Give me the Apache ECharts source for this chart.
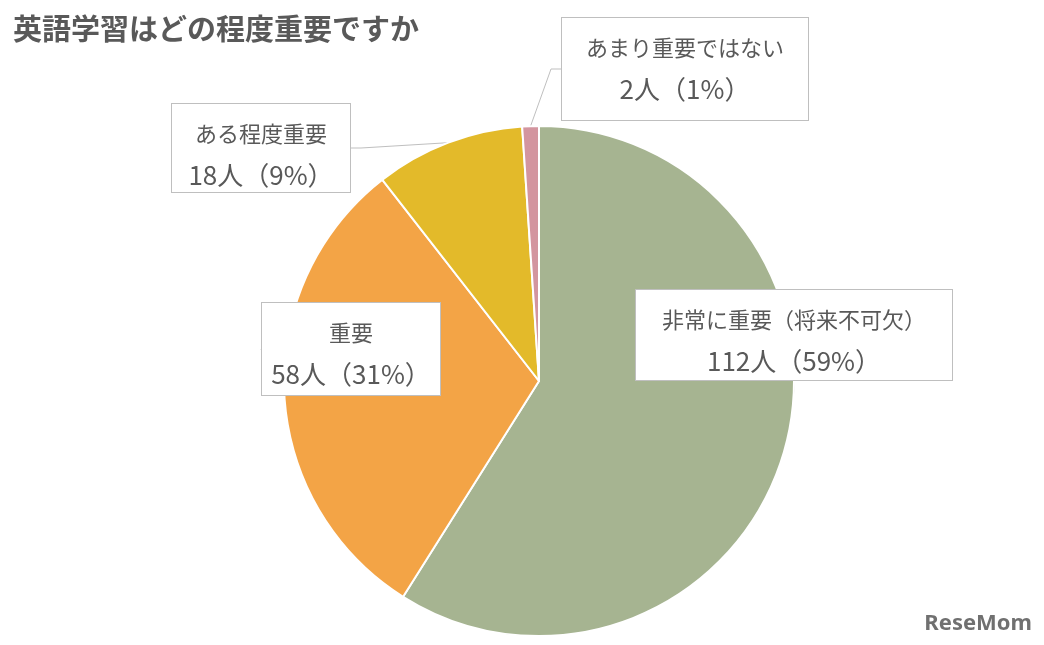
<!DOCTYPE html>
<html><head><meta charset="utf-8">
<script src="https://cdn.jsdelivr.net/npm/echarts@6/dist/echarts.min.js"></script>
<style>html,body{margin:0;padding:0;background:#fff}#c{width:1044px;height:645px}</style>
</head><body><div id="c"></div>
<script>
const categories = ['非常に重要（将来不可欠）','重要','ある程度重要','あまり重要ではない'];
const counts = [112, 58, 18, 2];
const percents = [59, 31, 9, 1];
const colors = ['#A6B491','#F3A446','#E3BA2A','#D3959F'];
const boxes = [ // label box centre, size
  {x:794,y:335,w:316,h:90},
  {x:351,y:349,w:178,h:92},
  {x:261,y:148,w:178,h:88},
  {x:685,y:69,w:246,h:102}
];
const chart = echarts.init(document.getElementById('c'));
chart.setOption({
  backgroundColor:'#fff',
  title:{text:'英語学習はどの程度重要ですか',left:8,top:9,textStyle:{fontFamily:'Noto Sans CJK JP',fontSize:29,fontWeight:'bold',color:'#595959'}},
  graphic:[{type:'text',right:12,bottom:10,style:{text:'ReseMom',font:'bold 22px "Noto Sans"',fill:'#707070'}}],
  series:[{
    type:'pie',center:[539,381],radius:255,startAngle:90,clockwise:true,
    itemStyle:{borderColor:'#fff',borderWidth:2},
    data:categories.map((n,i)=>({name:n,value:counts[i],itemStyle:{color:colors[i]},
      label:{width:boxes[i].w-4,height:boxes[i].h-20}})),
    label:{show:true,overflow:'none',formatter:p=>'{a|'+p.name+'}\n{b|'+counts[p.dataIndex]+'人（'+percents[p.dataIndex]+'%）}',
      rich:{a:{fontFamily:'Noto Sans CJK JP',fontSize:22,lineHeight:40,color:'#595959',align:'center'},
            b:{fontFamily:'Noto Sans CJK JP',fontSize:26,lineHeight:42,color:'#595959',align:'center'}},
      align:'center',verticalAlign:'middle',
      backgroundColor:'#fff',borderColor:'#bfbfbf',borderWidth:1,padding:[10,2]},
    labelLine:{show:true,lineStyle:{color:'#bfbfbf',width:1},length:10,length2:10},
    labelLayout:function(p){const b=boxes[p.dataIndex];return {x:b.x,y:b.y,align:'center',verticalAlign:'middle'};}
  }]
});
</script></body></html>
